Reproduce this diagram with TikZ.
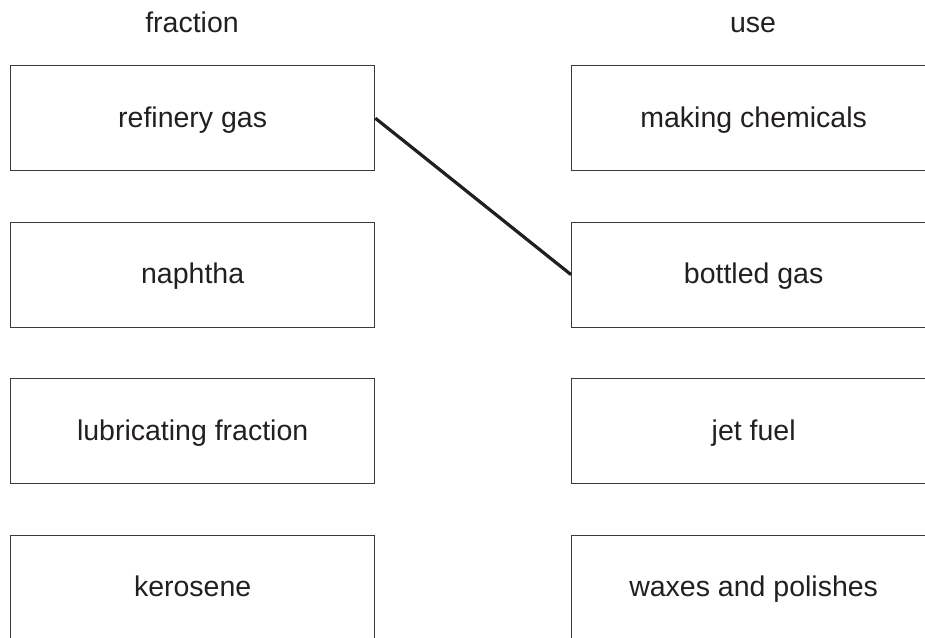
\documentclass[tikz,border=0pt]{standalone}
\usepackage{fontspec}
\setmainfont{Liberation Sans}
\definecolor{ink}{HTML}{231F20}
\definecolor{frame}{HTML}{3A3A3A}
\begin{document}
\begin{tikzpicture}[x=1pt,y=-1pt,
  box/.style={draw=frame,line width=1.3pt,minimum width=364pt,minimum height=105pt,
    inner sep=0pt,text=ink,font=\fontsize{28.5}{34}\selectfont,text height=21pt,text depth=2.5pt,anchor=north west},
  head/.style={text=ink,font=\fontsize{28.5}{34}\selectfont,anchor=base,inner sep=0pt},
  link/.style={draw=ink,line width=3.2pt}]
\useasboundingbox (0,0) rectangle (925,637);
\clip (0,0) rectangle (925,637);
\node[head] (hf) at (192,32) {fraction};
\node[head] (hu) at (753,32) {use};
\node[box] (f1) at (10,65) {refinery gas};
\node[box] (f2) at (10,221.5) {naphtha};
\node[box] (f3) at (10,378) {lubricating fraction};
\node[box] (f4) at (10,534.5) {kerosene};
\node[box] (u1) at (571,65) {making chemicals};
\node[box] (u2) at (571,221.5) {bottled gas};
\node[box] (u3) at (571,378) {jet fuel};
\node[box] (u4) at (571,534.5) {waxes and polishes};
\draw[link] (f1.east) -- (u2.west);
\end{tikzpicture}
\end{document}
